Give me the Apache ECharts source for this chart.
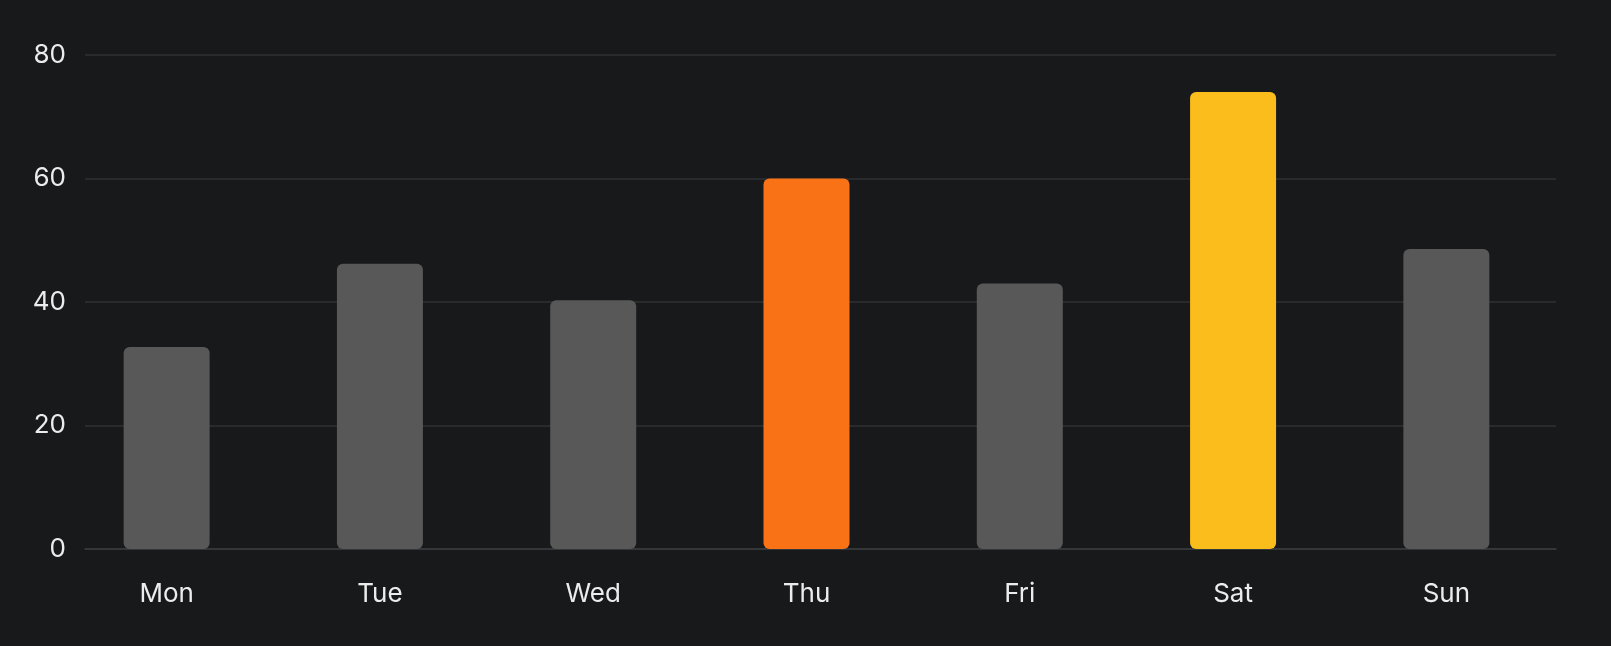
<!DOCTYPE html>
<html>
<head>
<meta charset="utf-8">
<script src="https://cdn.jsdelivr.net/npm/echarts@6/dist/echarts.min.js"></script>
<style>
html,body{margin:0;padding:0;background:#18191b;}
#chart{width:1611px;height:646px;}
</style>
</head>
<body>
<div id="chart"></div>
<script>
const categories = ['Mon','Tue','Wed','Thu','Fri','Sat','Sun'];
const values = [32.7, 46.2, 40.3, 60, 43, 74, 48.6];
const barColors = ['#585858','#585858','#585858','#f97316','#585858','#fbbd1c','#585858'];
const yTicks = [0, 20, 40, 60, 80];

const labelStyle = { color: '#ececec', fontSize: 26, fontFamily: 'Inter' };
const chart = echarts.init(document.getElementById('chart'));
chart.setOption({
  backgroundColor: '#18191b',
  animation: false,
  grid: [
    { left: 85, right: 55, top: 55, bottom: 97 },
    { left: 60, right: 58, top: 55, bottom: 97 }
  ],
  xAxis: [
    {
      type: 'category', gridIndex: 0, data: categories,
      axisLine: { show: true, lineStyle: { color: '#3a3b3e', width: 1.5 } },
      axisTick: { show: false }, axisLabel: { show: false }
    },
    {
      type: 'category', gridIndex: 1, data: categories,
      axisLine: { show: false }, axisTick: { show: false },
      axisLabel: Object.assign({ margin: 32 }, labelStyle)
    }
  ],
  yAxis: [
    {
      type: 'value', gridIndex: 0,
      min: yTicks[0], max: yTicks[yTicks.length - 1], interval: 20,
      axisLine: { show: false }, axisTick: { show: false },
      axisLabel: Object.assign({ margin: 19 }, labelStyle),
      splitLine: { lineStyle: { color: '#2f3033', width: 1.5 } }
    },
    {
      type: 'value', gridIndex: 1,
      min: yTicks[0], max: yTicks[yTicks.length - 1], interval: 20,
      axisLine: { show: false }, axisTick: { show: false },
      axisLabel: { show: false }, splitLine: { show: false }
    }
  ],
  series: [{
    type: 'bar',
    xAxisIndex: 1, yAxisIndex: 1,
    data: values.map((v, i) => ({ value: v, itemStyle: { color: barColors[i] } })),
    barWidth: 86,
    itemStyle: { borderRadius: 6 }
  }]
});
</script>
</body>
</html>
